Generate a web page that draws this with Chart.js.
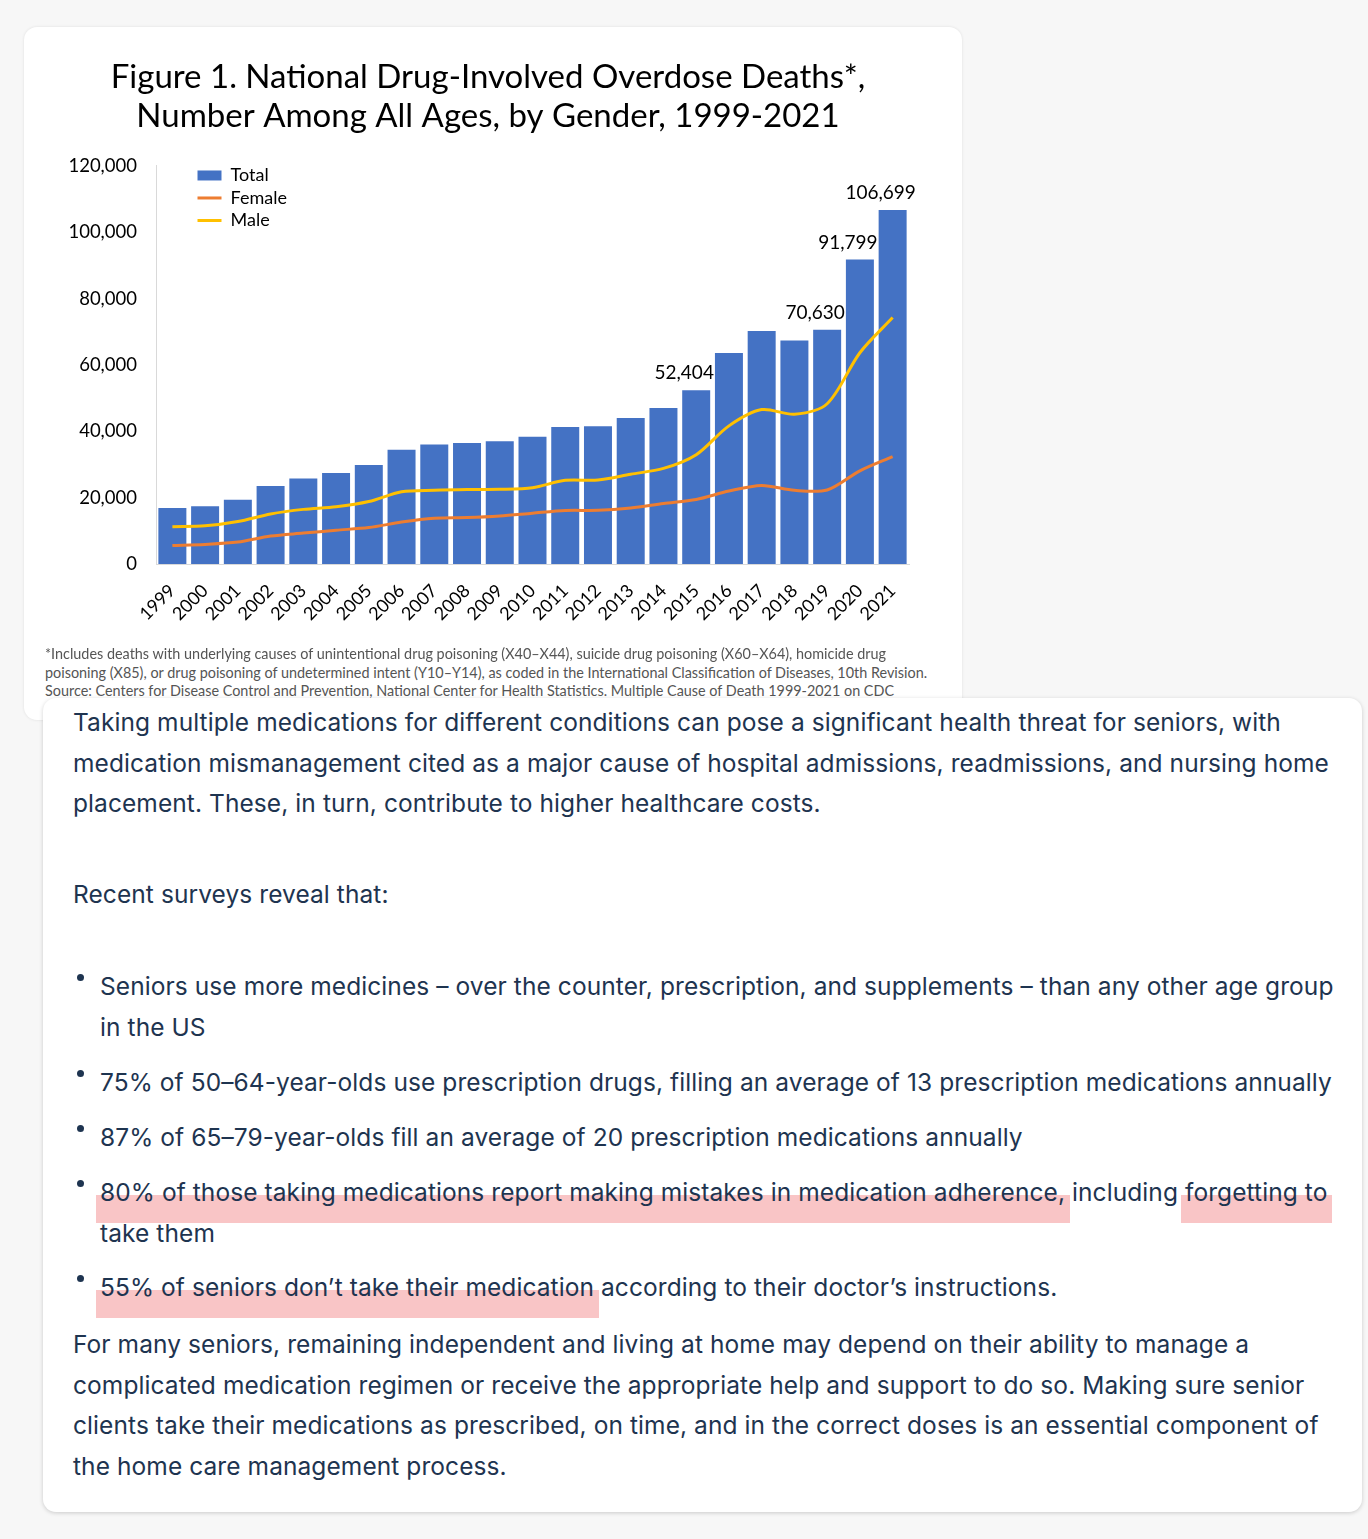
<!DOCTYPE html>
<html>
<head>
<meta charset="utf-8">
<script src="https://cdn.jsdelivr.net/npm/chart.js@4.4.1/dist/chart.umd.min.js"></script>
<style>
  html, body { margin: 0; padding: 0; }
  body { width: 1368px; height: 1539px; background: #f7f7f7; position: relative; overflow: hidden; }
  .card { position: absolute; background: #fff; border-radius: 13px; }
  #chartCard { left: 24px; top: 27px; width: 938px; height: 693px; box-shadow: 0 0 3px rgba(0,0,0,0.10); }
  #chartBox { position: absolute; left: 24px; top: 27px; width: 938px; height: 620px; }
  .note { position: absolute; left: 45px; font-family: Lato, sans-serif; font-size: 14.4px; color: #555; white-space: nowrap; line-height: 18px; }
  #textCard { left: 43px; top: 698px; width: 1319px; height: 814px; box-shadow: 0 1px 4px rgba(0,0,0,0.18); }
  .blk { position: absolute; font-family: Inter, sans-serif; font-size: 24.5px; line-height: 40.6px; color: #1e3450; white-space: nowrap; letter-spacing: 0.08px; }
  .p { left: 73px; }
  .b { left: 100px; }
  .b::before { content: ''; position: absolute; left: -23px; top: 8px; width: 7px; height: 7px; border-radius: 50%; background: #1e3450; }
  .hl { position: relative; z-index: 0; }
  .hl::before { content: ''; position: absolute; left: -4px; right: -5px; top: 18px; height: 28px; background: #f9c5c6; z-index: -1; }
</style>
</head>
<body>
<div class="card" id="chartCard"></div>
<div id="chartBox"><canvas id="overdose-chart"></canvas></div>
<div class="note" style="top:645px">*Includes deaths with underlying causes of unintentional drug poisoning (X40–X44), suicide drug poisoning (X60–X64), homicide drug</div>
<div class="note" style="top:664px">poisoning (X85), or drug poisoning of undetermined intent (Y10–Y14), as coded in the International Classification of Diseases, 10th Revision.</div>
<div class="note" style="top:682px">Source: Centers for Disease Control and Prevention, National Center for Health Statistics. Multiple Cause of Death 1999-2021 on CDC</div>

<div class="card" id="textCard"></div>
<div class="blk p" style="top:702px">Taking multiple medications for different conditions can pose a significant health threat for seniors, with<br>medication mismanagement cited as a major cause of hospital admissions, readmissions, and nursing home<br>placement. These, in turn, contribute to higher healthcare costs.</div>
<div class="blk p" style="top:874px">Recent surveys reveal that:</div>
<div class="blk b" style="top:966px">Seniors use more medicines – over the counter, prescription, and supplements – than any other age group<br>in the US</div>
<div class="blk b" style="top:1062px">75% of 50–64-year-olds use prescription drugs, filling an average of 13 prescription medications annually</div>
<div class="blk b" style="top:1117px">87% of 65–79-year-olds fill an average of 20 prescription medications annually</div>
<div class="blk b" style="top:1172px"><span class="hl">80% of those taking medications report making mistakes in medication adherence,</span> including <span class="hl">forgetting to</span><br>take them</div>
<div class="blk b" style="top:1267px"><span class="hl">55% of seniors don’t take their medication</span> according to their doctor’s instructions.</div>
<div class="blk p" style="top:1324px">For many seniors, remaining independent and living at home may depend on their ability to manage a<br>complicated medication regimen or receive the appropriate help and support to do so. Making sure senior<br>clients take their medications as prescribed, on time, and in the correct doses is an essential component of<br>the home care management process.</div>

<script>
// 연도
const years = ['1999', '2000', '2001', '2002', '2003', '2004', '2005', '2006', '2007', '2008', '2009', '2010',
  '2011', '2012', '2013', '2014', '2015', '2016', '2017', '2018', '2019', '2020', '2021'];

// 전체 / 여성 / 남성 사망자 수
const totalDeaths = [16849, 17415, 19394, 23518, 25785, 27424, 29813, 34425, 36010, 36450, 37004, 38329,
  41340, 41502, 43982, 47055, 52404, 63632, 70237, 67367, 70630, 91799, 106699];
const femaleDeaths = [5591, 5901, 6599, 8423, 9315, 10189, 10993, 12637, 13774, 13992, 14478, 15323,
  16123, 16186, 16914, 18243, 19447, 21988, 23685, 22211, 22311, 28100, 32398];
const maleDeaths = [11258, 11514, 12795, 15095, 16470, 17235, 18820, 21788, 22236, 22458, 22526, 23006,
  25217, 25316, 27068, 28812, 32957, 41644, 46552, 45156, 48319, 63700, 74301];

// 값을 표시할 연도
const labeledYears = ['2015', '2019', '2020', '2021'];

const yTicks = [0, 20000, 40000, 60000, 80000, 100000, 120000];

const FONT = 'Lato, sans-serif';

// 막대 위에 값 표시
const barValueLabels = {
  id: 'barValueLabels',
  afterDatasetsDraw(chart) {
    const meta = chart.getDatasetMeta(0);
    const ctx = chart.ctx;
    ctx.save();
    ctx.font = '19px ' + FONT;
    ctx.fillStyle = '#000';
    ctx.textAlign = 'center';
    ctx.textBaseline = 'middle';
    labeledYears.forEach(y => {
      const i = years.indexOf(y);
      const el = meta.data[i];
      ctx.fillText(totalDeaths[i].toLocaleString('en-US'), el.x - 12, el.y - 17);
    });
    ctx.restore();
  }
};

// 범례를 차트 영역 안 왼쪽 위로
const moveLegend = {
  id: 'moveLegend',
  afterLayout(chart) {
    const lg = chart.legend;
    const h = lg.bottom - lg.top;
    const w = lg.right - lg.left;
    lg.left = chart.chartArea.left + 37;
    lg.right = lg.left + w;
    lg.top = chart.chartArea.top - 4;
    lg.bottom = lg.top + h;
  }
};

const ctx = document.getElementById('overdose-chart').getContext('2d');
new Chart(ctx, {
  data: {
    labels: years,
    datasets: [
      {
        type: 'bar',
        label: 'Total',
        data: totalDeaths,
        backgroundColor: '#4472C4',
        borderWidth: 0,
        barPercentage: 0.855,
        categoryPercentage: 1,
        order: 1,
      },
      {
        type: 'line',
        label: 'Female',
        data: femaleDeaths,
        borderColor: '#ED7D31',
        backgroundColor: '#ED7D31',
        borderWidth: 3,
        pointRadius: 0,
        tension: 0.3,
        order: 0,
      },
      {
        type: 'line',
        label: 'Male',
        data: maleDeaths,
        borderColor: '#FFC000',
        backgroundColor: '#FFC000',
        borderWidth: 3,
        pointRadius: 0,
        tension: 0.3,
        order: 0,
      }
    ]
  },
  options: {
    responsive: true,
    maintainAspectRatio: false,
    animation: false,
    layout: { padding: { left: 43, right: 53, top: 0, bottom: 0 } },
    plugins: {
      title: {
        display: true,
        text: ['Figure 1. National Drug-Involved Overdose Deaths*,', 'Number Among All Ages, by Gender, 1999-2021'],
        color: '#000',
        font: { family: FONT, size: 33, weight: 'normal', lineHeight: 1.18 },
        padding: { top: 30.5, bottom: 30.6 },
      },
      legend: {
        position: 'chartArea',
        align: 'start',
        labels: {
          color: '#000',
          font: { family: FONT, size: 18 },
          usePointStyle: true,
          pointStyleWidth: 24,
          boxWidth: 24,
          boxHeight: 10,
          padding: 4.5,
          sort: (a, b) => a.datasetIndex - b.datasetIndex,
          generateLabels(chart) {
            const items = Chart.defaults.plugins.legend.labels.generateLabels(chart);
            items.forEach(it => {
              const ds = chart.data.datasets[it.datasetIndex];
              it.pointStyle = ds.type === 'bar' ? 'rect' : 'line';
              if (ds.type === 'bar') { it.lineWidth = 0; }
            });
            return items;
          }
        }
      },
      tooltip: { enabled: false },
    },
    scales: {
      x: {
        grid: { display: false },
        border: { display: true, color: '#d9d9d9', width: 1 },
        ticks: {
          color: '#000',
          font: { family: FONT, size: 18 },
          autoSkip: false,
          minRotation: 45,
          maxRotation: 45,
          padding: 8,
        },
        afterFit(scale) { scale.height = 83; }
      },
      y: {
        min: 0,
        max: 120000,
        grid: { display: false },
        border: { display: true, color: '#d9d9d9', width: 1 },
        afterBuildTicks(scale) { scale.ticks = yTicks.map(v => ({ value: v })); },
        ticks: {
          color: '#000',
          font: { family: FONT, size: 18.5 },
          padding: 11,
          callback: v => v.toLocaleString('en-US'),
        },
        afterFit(scale) { scale.width = 89; }
      }
    }
  },
  plugins: [barValueLabels, moveLegend]
});
</script>
</body>
</html>
